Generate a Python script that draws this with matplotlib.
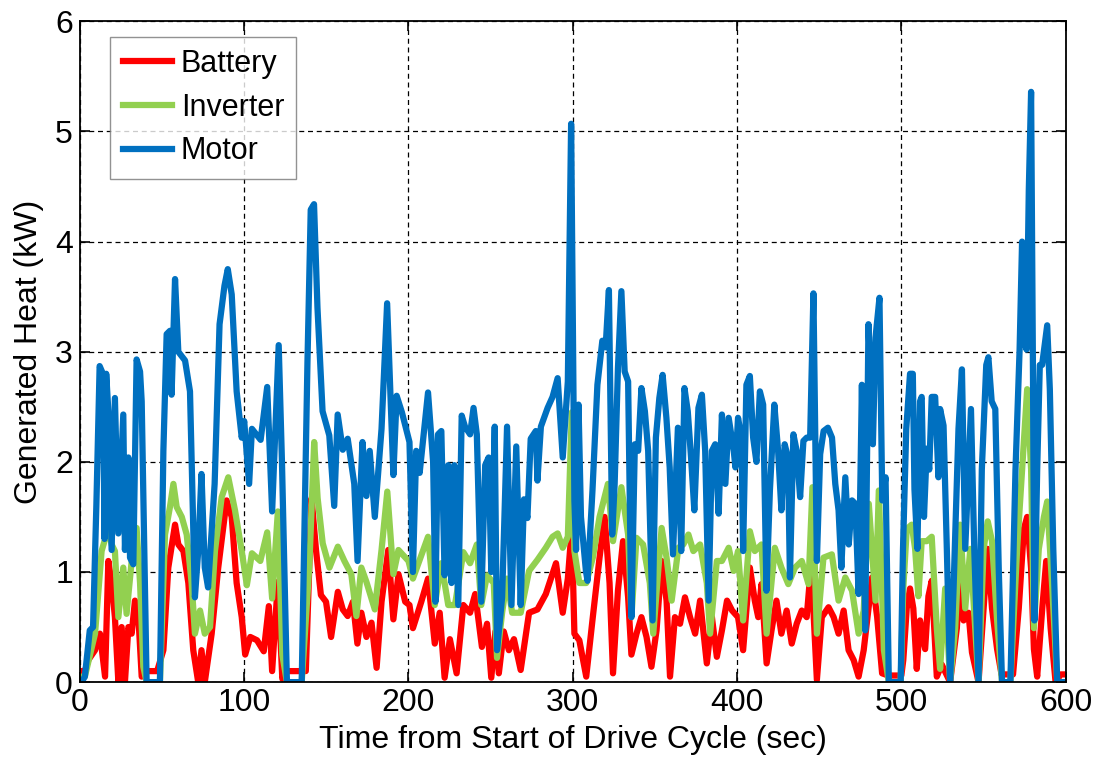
import numpy as np
import matplotlib
matplotlib.use('Agg')
import matplotlib.pyplot as plt

plt.rcParams['font.family'] = ['Liberation Sans', 'DejaVu Sans']

# motor heat (kW)
motor_t = [0, 1, 3, 6, 8, 10, 12, 14, 15, 16, 17.3, 19.3, 21.3, 23.4, 26.4, 27.4, 29.5, 30.5, 32.5,
           34.5, 36.6, 37.6, 40.6, 48.7, 50.8, 52.8, 54.8, 55.8, 57.9, 59.9, 64, 67, 70, 72, 74, 76,
           78, 82, 85, 88, 90, 92.4, 95.4, 98.5, 100, 103, 104.7, 110, 114, 117, 121, 123, 126, 135,
           138.5, 140.5, 142.5, 144.6, 147.7, 151.8, 154.8, 156.9, 160, 163, 167, 169, 172, 174.4,
           176.4, 179.5, 183.6, 187, 190.8, 192.8, 196, 200.6, 202.7, 204.7, 206.8, 211.9, 215,
           216.4, 218, 220, 222, 224.2, 226.2, 227.9, 230.3, 232.4, 234.4, 237.5, 239.6, 241.6,
           244.3, 246.7, 248.8, 250.4, 252.5, 253.9, 257, 260, 262.7, 265.6, 268.3, 270.3, 272.4,
           274.4, 277.5, 278.5, 280.6, 284.7, 287.7, 290.8, 293.9, 297, 299, 301, 302, 303.5, 305,
           308, 309, 312, 315, 318, 320, 322, 324, 325.5, 327.5, 329.6, 331.6, 333.7, 335.7, 337.8,
           339.8, 341.8, 343.9, 345.9, 348.6, 350.6, 352.7, 354.7, 357, 359, 361, 364, 366, 368,
           370, 372, 374, 376.5, 378.6, 380.6, 382.7, 384.7, 386.7, 388.8, 390.8, 392.9, 394.9,
           398, 399, 400.6, 402.7, 403.7, 405.7, 407.8, 409.8, 411.8, 413.9, 415.9, 417.9, 420,
           422.7, 425, 427, 429, 431, 432.2, 434.3, 436.3, 438.4, 440.4, 442.4, 444.5, 446.5,
           448.6, 450.6, 452.7, 455.3, 457.8, 459.8, 461.8, 463.5, 465.9, 468, 470, 472, 474, 476,
           478, 480, 482.7, 484.3, 486.7, 488.4, 490.4, 492.4, 499.6, 501, 503, 505.3, 507, 508,
           509.8, 511.4, 512.4, 513.8, 515.5, 517, 518.5, 520.6, 522.6, 523.6, 525.7, 527.7, 529.7,
           531.8, 534.8, 536.9, 538.9, 540.9, 542.4, 544.4, 547, 549, 551.7, 553, 555, 557.2,
           559.3, 561.3, 566.4, 569.5, 572, 573.5, 575, 576.2, 577.6, 579, 580.2, 581, 582.7,
           584.3, 585.7, 588.8, 590.4, 592.5, 594.9, 600]
motor_kw = [0, 0, 0.05, 0.47, 0.5, 1.6, 2.87, 2.8, 1.3, 2.8, 2.46, 1.2, 2.58, 1.35, 2.43, 1.2, 2.04,
            1.13, 1.07, 2.93, 2.82, 2.55, 0, 0, 2.1, 3.16, 3.19, 2.61, 3.66, 3.0, 2.92, 2.64, 0.77,
            1.19, 1.89, 1.04, 0.86, 1.8, 3.25, 3.6, 3.75, 3.52, 2.64, 2.22, 2.37, 1.8, 2.3, 2.2,
            2.68, 1.55, 3.06, 1.99, 0, 0, 2.9, 4.29, 4.34, 3.4, 2.46, 2.24, 1.6, 2.43, 2.11, 2.21,
            1.8, 1.1, 2.18, 1.69, 2.1, 1.5, 2.3, 3.44, 1.88, 2.6, 2.45, 2.18, 1.0, 2.1, 1.9, 2.63,
            2.0, 0.73, 2.25, 2.28, 0.97, 1.97, 0.9, 1.97, 0.7, 2.42, 2.32, 2.25, 2.49, 2.25, 0.73,
            1.97, 2.04, 1.0, 2.32, 0.29, 0.77, 2.32, 0.7, 2.14, 0.7, 1.66, 1.49, 2.21, 2.28, 1.83,
            2.32, 2.49, 2.59, 2.76, 2.04, 2.73, 5.07, 1.65, 1.2, 2.52, 1.5, 1.01, 0.92, 1.74, 2.7,
            3.1, 3.04, 3.56, 1.34, 1.8, 2.85, 3.55, 2.82, 2.73, 0.59, 2.16, 2.1, 2.67, 2.46, 2.1,
            0.56, 2.22, 2.58, 2.79, 2.4, 1.95, 1.16, 2.31, 1.19, 2.67, 2.46, 2.04, 1.56, 2.49, 2.61,
            2.1, 0.74, 2.1, 2.16, 1.53, 2.43, 1.8, 2.4, 2.1, 1.95, 2.4, 2.22, 1.19, 2.7, 2.78, 2.22,
            2.0, 2.64, 2.52, 0.83, 1.74, 2.52, 2.1, 1.56, 2.16, 2.04, 0.95, 2.25, 2.1, 1.68, 2.19,
            2.22, 2.22, 3.53, 1.1, 2.07, 2.28, 2.31, 2.22, 1.8, 1.56, 1.04, 1.86, 1.25, 1.65, 1.62,
            0.8, 2.7, 0.47, 3.25, 2.16, 3.13, 3.49, 1.65, 1.86, 0, 0, 1.2, 2.3, 2.8, 2.8, 1.75,
            1.21, 2.55, 2.59, 1.5, 2.12, 1.93, 2.59, 2.59, 1.86, 2.48, 2.33, 1.21, 0, 0.85, 2.3,
            2.84, 1.21, 1.93, 2.48, 1.21, 0, 1.93, 2.88, 2.95, 2.55, 2.48, 1.03, 0, 0, 1.93, 3.02,
            4.0, 3.09, 3.02, 4.47, 5.36, 2.66, 0.56, 1.93, 2.88, 2.88, 3.24, 2.66, 1.21, 0, 0]

inverter_t = [0, 3, 9.2, 13.2, 17.3, 19.3, 21.3, 23.4, 26.4, 28.4, 31.5, 34.5, 36.6, 38.6, 40.6,
              48.7, 51.8, 54.8, 56.9, 58.9, 62, 65, 68, 70, 73.1, 76, 79.2, 82.2, 86.3, 90.3, 94.4,
              98.5, 101.6, 104.7, 109.8, 114, 117, 120.5, 123.2, 126, 135, 139.6, 142.6, 144.7,
              147.8, 151.9, 157, 161, 165.2, 168.3, 171.3, 174.4, 179.5, 183.6, 187.1, 190.8,
              193.9, 200, 202.7, 207.8, 211.9, 216, 220, 224.2, 228.3, 233.4, 237.5, 241.6, 244.3,
              247.8, 251.9, 253.9, 257, 260, 263.1, 268.3, 273.4, 278.5, 283.6, 287.7, 290.8,
              293.9, 297, 299.4, 301, 304, 308.2, 312.2, 316.3, 321.4, 324.5, 329.6, 333.7, 335.7,
              338.8, 342.8, 346.9, 349, 354.1, 357.1, 360.2, 364.3, 367.3, 370.4, 373.4, 377.5,
              381.6, 383.6, 387.7, 390.8, 394.9, 398, 400.6, 403.7, 407.8, 410.8, 414.9, 418, 423,
              427, 431.2, 435.3, 439.4, 443.5, 445.9, 448.6, 452.6, 457.7, 461.8, 465.9, 470, 474,
              477.1, 480.2, 484.3, 486.3, 489.4, 492.4, 499.6, 501.2, 503.3, 506.3, 508.4, 510.4,
              512.4, 515.5, 518.5, 521.6, 523.6, 526.7, 529.7, 532.8, 535.8, 538.9, 542, 545, 547,
              550.1, 552.6, 555.2, 558.3, 561.3, 566.4, 570.5, 573.5, 576.6, 579, 580.7, 583.7,
              586.8, 588.8, 591.9, 594.9, 600]
inverter_kw = [0.05, 0.05, 0.44, 1.19, 1.4, 1.25, 1.19, 0.59, 1.04, 0.62, 1.1, 1.4, 0.9, 0.14, 0,
               0, 1.34, 1.59, 1.8, 1.59, 1.5, 1.34, 0.9, 0.44, 0.65, 0.44, 0.5, 1.19, 1.68, 1.86,
               1.56, 1.19, 0.88, 1.17, 1.1, 1.36, 0.76, 1.55, 0.25, 0, 0, 1.04, 2.18, 1.67, 1.26,
               1.04, 1.23, 1.1, 0.98, 0.6, 1.04, 0.91, 0.66, 1.2, 1.73, 0.98, 1.2, 1.1, 0.94, 1.15,
               1.32, 0.7, 1.08, 0.7, 0.7, 1.18, 1.08, 1.25, 0.7, 0.97, 0.9, 0.22, 0.63, 0.94, 0.63,
               0.63, 1.01, 1.11, 1.22, 1.32, 1.35, 1.22, 1.32, 2.45, 1.19, 0.9, 0.9, 1.13, 1.5, 1.8,
               1.28, 1.77, 1.34, 0.59, 1.31, 1.25, 0.9, 0.44, 1.4, 1.13, 0.74, 1.22, 1.25, 1.34,
               1.19, 1.25, 0.9, 0.44, 1.1, 1.1, 1.22, 1.01, 1.19, 0.56, 1.37, 1.19, 1.25, 0.44,
               1.22, 1.04, 0.89, 1.04, 1.1, 0.89, 1.77, 0.44, 1.13, 1.16, 0.74, 0.95, 0.83, 0.44,
               0.65, 1.62, 0.74, 1.74, 0.29, 0, 0, 0.85, 1.39, 1.43, 1.21, 0.78, 1.28, 1.28, 1.32,
               0.49, 0.12, 0.85, 0, 0.49, 1.43, 0.67, 1.21, 0.49, 0, 1.21, 1.46, 1.28, 0.56, 0, 0,
               1.21, 1.93, 2.66, 1.93, 0.49, 1.21, 1.5, 1.64, 0.85, 0, 0]

battery_t = [0, 3, 5.1, 9.2, 12.2, 15.3, 17.3, 19.3, 21.3, 23.4, 25.4, 27.4, 29.5, 31.5, 33.5,
             35.6, 37.6, 39.6, 47, 50.8, 53.8, 57.9, 59.9, 63, 66, 69, 72, 74, 76, 80.2, 84.2,
             89.3, 92.4, 95.4, 98.5, 100.6, 103.7, 107.8, 111.9, 115, 117, 120.5, 123.2, 125,
             137.5, 141, 143.7, 146.7, 149.8, 152.9, 157, 160, 163, 166.2, 168.9, 171.3, 174.4,
             177.5, 180.6, 183.6, 187.7, 190.8, 193.9, 198, 200.6, 202.7, 207.8, 211.9, 216, 219,
             222, 225.2, 229.3, 233.4, 237.5, 240.6, 244.7, 247.8, 250.4, 252.9, 255, 258, 261.1,
             264.2, 268.3, 273.4, 278.5, 283.6, 289.8, 293.9, 297, 299.4, 301, 304, 308.2, 312.2,
             316.3, 319.4, 322.4, 324.5, 327.5, 330.6, 333.7, 335.7, 338.8, 341.8, 344.9, 347.9,
             351, 354.1, 357.1, 359.2, 362.2, 365.3, 368.3, 371.4, 374.5, 377.5, 381.6, 384.7,
             387.7, 390.8, 393.9, 397, 400.6, 403.7, 407.8, 410.8, 412.9, 414.9, 418, 421, 424,
             427, 430.2, 433.3, 436.3, 439.4, 442.4, 445.1, 448.6, 451.6, 455.7, 458.8, 461.8,
             464.9, 467.9, 471, 474, 477.1, 482.2, 485.3, 488.3, 492, 500, 501.2, 503.3, 505.3,
             507.3, 509.4, 511.4, 514.5, 516.5, 518.5, 521.6, 524.6, 529.7, 533.8, 535.8, 537.9,
             540.9, 543, 547, 550.1, 552.6, 555.2, 558.3, 561, 568, 571.5, 574.6, 576.6, 579,
             580.7, 582.7, 585.8, 588.2, 590.9, 593.9, 597, 600]
battery_kw = [0.1, 0.1, 0.2, 0.29, 0.44, 0.05, 1.1, 0.9, 0.59, 0, 0.5, 0, 0.5, 0.44, 0.74, 0.59,
              0.05, 0.1, 0.1, 0.29, 1.04, 1.43, 1.25, 1.19, 0.9, 0.29, 0, 0.29, 0, 0.44, 1.04,
              1.65, 1.5, 0.9, 0.59, 0.25, 0.41, 0.38, 0.28, 0.69, 0.1, 0.91, 0.03, 0.1, 0.1, 1.67,
              1.2, 0.79, 0.73, 0.41, 0.82, 0.66, 0.6, 0.73, 0.35, 0.63, 0.41, 0.54, 0.13, 0.73,
              1.2, 0.57, 0.98, 0.73, 0.7, 0.49, 0.73, 0.94, 0.35, 0.63, 0.04, 0.39, 0.08, 0.7,
              0.63, 0.8, 0.32, 0.53, 0.04, 0.46, 0.08, 0.46, 0.29, 0.39, 0.11, 0.63, 0.66, 0.8,
              1.08, 0.63, 0.94, 1.4, 0.44, 0.38, 0.05, 0.59, 1.13, 1.5, 0.9, 0.08, 0.83, 1.28,
              0.77, 0.25, 0.44, 0.59, 0.41, 0.14, 0.47, 1.1, 0.74, 0.05, 0.59, 0.53, 0.77, 0.59,
              0.44, 0.74, 0.17, 0.59, 0.23, 0.47, 0.74, 0.65, 0.59, 0.29, 1.04, 0.74, 0.59, 0.89,
              0.17, 0.47, 0.74, 0.44, 0.65, 0.35, 0.53, 0.65, 0.59, 1.07, 0.02, 0.59, 0.68, 0.59,
              0.44, 0.65, 0.29, 0.2, 0.05, 0.29, 0.95, 0.59, 0.08, 0.06, 0.06, 0.2, 0.67, 0.85,
              0.67, 0.12, 0.56, 0.3, 0.78, 0.92, 0.05, 0.16, 0, 0.49, 1.03, 0.56, 0.63, 0.27, 0,
              0.67, 1.21, 0.67, 0.3, 0.07, 0.07, 0.67, 1.39, 1.5, 1.03, 0.3, 0.05, 0.67, 1.1,
              0.49, 0, 0.07, 0.07]

fig = plt.figure(figsize=(11.1, 7.63), dpi=100)
ax = fig.add_axes([0.072, 0.106, 0.888, 0.866])

ax.plot(battery_t, battery_kw, color='#ff0000', lw=4.5, label='Battery')
ax.plot(inverter_t, inverter_kw, color='#92d050', lw=4.5, label='Inverter')
ax.plot(motor_t, motor_kw, color='#0070c0', lw=4.5, label='Motor')

ax.set_xlim(0, 600)
ax.set_ylim(0, 6)
ax.set_xticks(np.arange(0, 601, 100))
ax.set_yticks(np.arange(0, 7, 1))
ax.grid(True, color='k', linestyle=(0, (4, 3)), linewidth=0.9)
ax.tick_params(direction='in', top=True, right=True, labelsize=23, length=7, width=1.2)
ax.tick_params(axis='x', pad=4)
ax.tick_params(axis='y', pad=5)
for s in ax.spines.values():
    s.set_linewidth(1.3)

ax.set_xlabel('Time from Start of Drive Cycle (sec)', fontsize=23, labelpad=5)
ax.set_ylabel('Generated Heat (kW)', fontsize=23, labelpad=8)

leg = ax.legend(loc='upper left', fontsize=22, frameon=True, fancybox=False,
                edgecolor='#777777', handlelength=1.6, handletextpad=0.3,
                borderpad=0.4, borderaxespad=0, labelspacing=0.45,
                bbox_to_anchor=(0.031, 0.977))
leg.get_frame().set_linewidth(1.0)

plt.savefig('out.png', dpi=100)
